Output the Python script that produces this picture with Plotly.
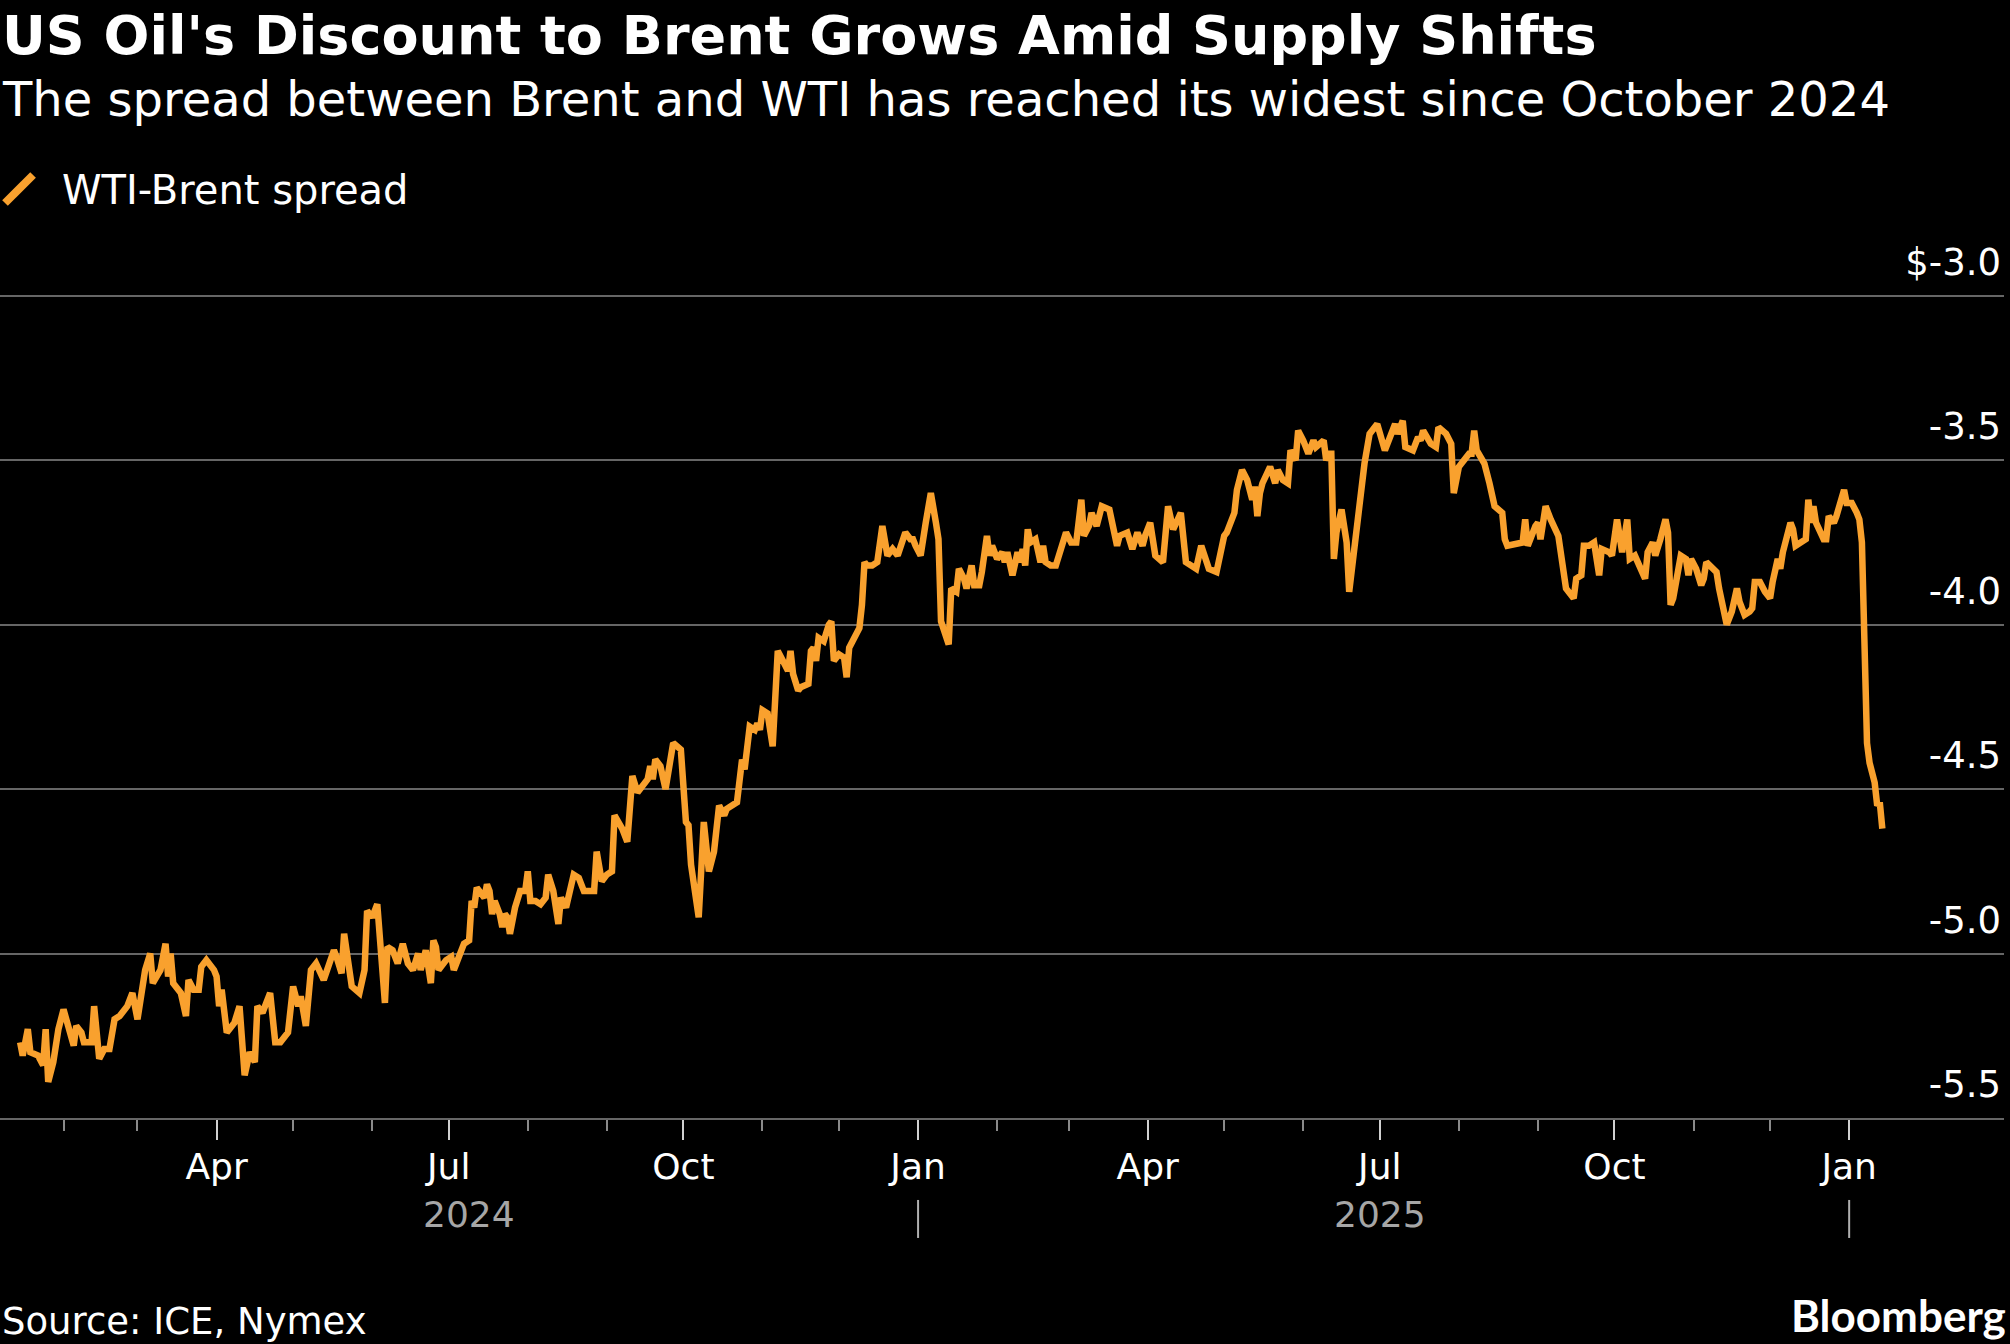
import plotly.graph_objects as go

TITLE = "US Oil's Discount to Brent Grows Amid Supply Shifts"
SUBTITLE = "The spread between Brent and WTI has reached its widest since October 2024"
SERIES_NAME = "WTI-Brent spread"
SOURCE = "Source: ICE, Nymex"
BRAND = "Bloomberg"

# WTI minus Brent, $ per barrel
dates = [
    "2024-01-15", "2024-01-16", "2024-01-18", "2024-01-19", "2024-01-22", "2024-01-23", "2024-01-24",
    "2024-01-25", "2024-01-26", "2024-01-28", "2024-01-30", "2024-02-01", "2024-02-03", "2024-02-05",
    "2024-02-06", "2024-02-08", "2024-02-09", "2024-02-12", "2024-02-13", "2024-02-15", "2024-02-17",
    "2024-02-19", "2024-02-21", "2024-02-23", "2024-02-26", "2024-02-28", "2024-03-01", "2024-03-04",
    "2024-03-06", "2024-03-07", "2024-03-10", "2024-03-12", "2024-03-13", "2024-03-14", "2024-03-15",
    "2024-03-18", "2024-03-20", "2024-03-21", "2024-03-23", "2024-03-25", "2024-03-26", "2024-03-28",
    "2024-03-31", "2024-04-01", "2024-04-02", "2024-04-03", "2024-04-05", "2024-04-08", "2024-04-10",
    "2024-04-12", "2024-04-14", "2024-04-16", "2024-04-17", "2024-04-19", "2024-04-22", "2024-04-24",
    "2024-04-26", "2024-04-29", "2024-05-01", "2024-05-03", "2024-05-04", "2024-05-06", "2024-05-08",
    "2024-05-10", "2024-05-13", "2024-05-15", "2024-05-17", "2024-05-18", "2024-05-20", "2024-05-21",
    "2024-05-22", "2024-05-24", "2024-05-27", "2024-05-29", "2024-05-30", "2024-06-01", "2024-06-03",
    "2024-06-06", "2024-06-07", "2024-06-09", "2024-06-11", "2024-06-13", "2024-06-15", "2024-06-17",
    "2024-06-19", "2024-06-20", "2024-06-22", "2024-06-24", "2024-06-25", "2024-06-26", "2024-06-27",
    "2024-06-30", "2024-07-02", "2024-07-03", "2024-07-07", "2024-07-09", "2024-07-10", "2024-07-11",
    "2024-07-12", "2024-07-15", "2024-07-16", "2024-07-17", "2024-07-18", "2024-07-19", "2024-07-21",
    "2024-07-22", "2024-07-23", "2024-07-24", "2024-07-25", "2024-07-27", "2024-07-29", "2024-07-31",
    "2024-08-01", "2024-08-02", "2024-08-04", "2024-08-06", "2024-08-08", "2024-08-09", "2024-08-11",
    "2024-08-13", "2024-08-14", "2024-08-16", "2024-08-19", "2024-08-21", "2024-08-23", "2024-08-27",
    "2024-08-28", "2024-08-30", "2024-09-01", "2024-09-03", "2024-09-04", "2024-09-07", "2024-09-09",
    "2024-09-11", "2024-09-13", "2024-09-15", "2024-09-17", "2024-09-18", "2024-09-19", "2024-09-20",
    "2024-09-22", "2024-09-24", "2024-09-25", "2024-09-27", "2024-09-30", "2024-10-02", "2024-10-03",
    "2024-10-04", "2024-10-07", "2024-10-09", "2024-10-11", "2024-10-13", "2024-10-15", "2024-10-17",
    "2024-10-18", "2024-10-22", "2024-10-24", "2024-10-25", "2024-10-27", "2024-10-29", "2024-10-30",
    "2024-10-31", "2024-11-01", "2024-11-03", "2024-11-05", "2024-11-07", "2024-11-09", "2024-11-11",
    "2024-11-12", "2024-11-13", "2024-11-15", "2024-11-16", "2024-11-19", "2024-11-20", "2024-11-21",
    "2024-11-22", "2024-11-23", "2024-11-25", "2024-11-27", "2024-11-28", "2024-11-29", "2024-12-01",
    "2024-12-03", "2024-12-04", "2024-12-05", "2024-12-08", "2024-12-09", "2024-12-10", "2024-12-11",
    "2024-12-12", "2024-12-14", "2024-12-16", "2024-12-18", "2024-12-20", "2024-12-22", "2024-12-24",
    "2024-12-26", "2024-12-27", "2024-12-29", "2024-12-30", "2024-12-31",
    "2025-01-02", "2025-01-04", "2025-01-06", "2025-01-08", "2025-01-09", "2025-01-10", "2025-01-12",
    "2025-01-13", "2025-01-14", "2025-01-16", "2025-01-17", "2025-01-19", "2025-01-20", "2025-01-22",
    "2025-01-23", "2025-01-25", "2025-01-26", "2025-01-28", "2025-01-29", "2025-01-30", "2025-02-01",
    "2025-02-03", "2025-02-04", "2025-02-05", "2025-02-07", "2025-02-09", "2025-02-10", "2025-02-11",
    "2025-02-12", "2025-02-13", "2025-02-14", "2025-02-16", "2025-02-18", "2025-02-19", "2025-02-20",
    "2025-02-22", "2025-02-24", "2025-02-26", "2025-02-28", "2025-03-02", "2025-03-04", "2025-03-06",
    "2025-03-07", "2025-03-09", "2025-03-10", "2025-03-12", "2025-03-14", "2025-03-17", "2025-03-20",
    "2025-03-21", "2025-03-24", "2025-03-26", "2025-03-28", "2025-03-30", "2025-03-31", "2025-04-02",
    "2025-04-04", "2025-04-07", "2025-04-09", "2025-04-11", "2025-04-14", "2025-04-16", "2025-04-20",
    "2025-04-22", "2025-04-25", "2025-04-28", "2025-05-01", "2025-05-02", "2025-05-05", "2025-05-06",
    "2025-05-08", "2025-05-10", "2025-05-12", "2025-05-13", "2025-05-14", "2025-05-15", "2025-05-16",
    "2025-05-19", "2025-05-21", "2025-05-22", "2025-05-24", "2025-05-26", "2025-05-27", "2025-05-29",
    "2025-05-30", "2025-06-01", "2025-06-03", "2025-06-05", "2025-06-06", "2025-06-09", "2025-06-10",
    "2025-06-11", "2025-06-12", "2025-06-13", "2025-06-14", "2025-06-16", "2025-06-18", "2025-06-19",
    "2025-06-21", "2025-06-23", "2025-06-25", "2025-06-27", "2025-06-30", "2025-07-03", "2025-07-05",
    "2025-07-07", "2025-07-08", "2025-07-10", "2025-07-11", "2025-07-14", "2025-07-16", "2025-07-17",
    "2025-07-18", "2025-07-21", "2025-07-23", "2025-07-24", "2025-07-27", "2025-07-29", "2025-07-30",
    "2025-08-01", "2025-08-03", "2025-08-05", "2025-08-06", "2025-08-07", "2025-08-08", "2025-08-11",
    "2025-08-13", "2025-08-15", "2025-08-18", "2025-08-19", "2025-08-20", "2025-08-26", "2025-08-27",
    "2025-08-28", "2025-08-31", "2025-09-01", "2025-09-02", "2025-09-04", "2025-09-06", "2025-09-09",
    "2025-09-12", "2025-09-15", "2025-09-16", "2025-09-18", "2025-09-19", "2025-09-21", "2025-09-23",
    "2025-09-25", "2025-09-26", "2025-09-29", "2025-09-30", "2025-10-02", "2025-10-04", "2025-10-06",
    "2025-10-07", "2025-10-09", "2025-10-13", "2025-10-14", "2025-10-16", "2025-10-17", "2025-10-19",
    "2025-10-21", "2025-10-22", "2025-10-23", "2025-10-24", "2025-10-26", "2025-10-27", "2025-10-29",
    "2025-10-30", "2025-10-31", "2025-11-02", "2025-11-04", "2025-11-05", "2025-11-06", "2025-11-09",
    "2025-11-10", "2025-11-11", "2025-11-13", "2025-11-14", "2025-11-16", "2025-11-18", "2025-11-19",
    "2025-11-21", "2025-11-23", "2025-11-24", "2025-11-25", "2025-11-27", "2025-11-29", "2025-12-01",
    "2025-12-02", "2025-12-04", "2025-12-05", "2025-12-06", "2025-12-09", "2025-12-10", "2025-12-11",
    "2025-12-15", "2025-12-16", "2025-12-17", "2025-12-18", "2025-12-19", "2025-12-22", "2025-12-23",
    "2025-12-24", "2025-12-26", "2025-12-27", "2025-12-28", "2025-12-30", "2025-12-31",
    "2026-01-02", "2026-01-04", "2026-01-05", "2026-01-06", "2026-01-08", "2026-01-09", "2026-01-11",
    "2026-01-12", "2026-01-13", "2026-01-14",
]
spread = [
    -5.27, -5.31, -5.23, -5.30, -5.31, -5.33, -5.34,
    -5.23, -5.39, -5.33, -5.23, -5.17, -5.23, -5.28,
    -5.22, -5.24, -5.27, -5.27, -5.16, -5.32, -5.29,
    -5.29, -5.20, -5.19, -5.16, -5.12, -5.20, -5.05,
    -5.00, -5.09, -5.05, -4.97, -5.07, -5.00, -5.09,
    -5.12, -5.19, -5.08, -5.11, -5.11, -5.04, -5.02,
    -5.05, -5.07, -5.16, -5.11, -5.24, -5.21, -5.16,
    -5.37, -5.30, -5.33, -5.16, -5.18, -5.12, -5.27,
    -5.27, -5.24, -5.10, -5.16, -5.13, -5.22, -5.05,
    -5.03, -5.08, -5.03, -4.99, -5.01, -5.06, -4.94,
    -4.99, -5.10, -5.12, -5.05, -4.87, -4.89, -4.85,
    -5.15, -4.98, -4.99, -5.03, -4.97, -5.03, -5.05,
    -5.00, -5.05, -4.99, -5.09, -4.96, -4.98, -5.05,
    -5.02, -5.01, -5.05, -4.97, -4.96, -4.84, -4.86,
    -4.80, -4.83, -4.79, -4.81, -4.88, -4.84, -4.88,
    -4.92, -4.88, -4.89, -4.94, -4.86, -4.81, -4.81,
    -4.75, -4.84, -4.84, -4.85, -4.83, -4.76, -4.81,
    -4.91, -4.83, -4.86, -4.76, -4.77, -4.81, -4.81,
    -4.69, -4.78, -4.76, -4.75, -4.58, -4.62, -4.66,
    -4.46, -4.51, -4.49, -4.47, -4.43, -4.47, -4.41,
    -4.43, -4.50, -4.45, -4.36, -4.38, -4.60, -4.61,
    -4.73, -4.89, -4.60, -4.75, -4.69, -4.55, -4.58,
    -4.56, -4.54, -4.41, -4.44, -4.31, -4.32, -4.30,
    -4.32, -4.26, -4.27, -4.37, -4.08, -4.11, -4.14,
    -4.08, -4.15, -4.20, -4.19, -4.18, -4.08, -4.07,
    -4.11, -4.04, -4.05, -4.00, -3.99, -4.11, -4.09,
    -4.10, -4.16, -4.07, -4.03, -4.01, -3.94, -3.81,
    -3.82, -3.82, -3.81, -3.70, -3.79, -3.77, -3.79,
    -3.75, -3.72, -3.74, -3.74, -3.76,
    -3.79, -3.69, -3.60, -3.69, -3.74, -3.99, -4.03,
    -4.06, -3.89, -3.90, -3.83, -3.86, -3.89, -3.82,
    -3.88, -3.88, -3.84, -3.73, -3.79, -3.76, -3.80,
    -3.78, -3.81, -3.78, -3.85, -3.78, -3.81, -3.77,
    -3.82, -3.71, -3.75, -3.74, -3.81, -3.76, -3.81,
    -3.82, -3.82, -3.77, -3.72, -3.75, -3.75, -3.62,
    -3.73, -3.70, -3.66, -3.70, -3.64, -3.65, -3.76,
    -3.73, -3.72, -3.77, -3.72, -3.76, -3.73, -3.69,
    -3.79, -3.81, -3.64, -3.71, -3.66, -3.81, -3.83,
    -3.76, -3.83, -3.84, -3.73, -3.72, -3.66, -3.59,
    -3.53, -3.56, -3.62, -3.58, -3.67, -3.60, -3.57,
    -3.52, -3.57, -3.53, -3.56, -3.57, -3.47, -3.50,
    -3.41, -3.44, -3.48, -3.44, -3.46, -3.44, -3.50,
    -3.48, -3.48, -3.80, -3.72, -3.65, -3.75, -3.90,
    -3.77, -3.62, -3.51, -3.42, -3.39, -3.47, -3.43,
    -3.39, -3.42, -3.38, -3.46, -3.47, -3.43, -3.44,
    -3.41, -3.45, -3.46, -3.40, -3.42, -3.45, -3.60,
    -3.52, -3.50, -3.48, -3.48, -3.41, -3.47, -3.51,
    -3.57, -3.64, -3.66, -3.74, -3.76, -3.75, -3.68,
    -3.76, -3.70, -3.69, -3.74, -3.64, -3.68, -3.73,
    -3.89, -3.92, -3.86, -3.85, -3.76, -3.76, -3.75,
    -3.85, -3.77, -3.78, -3.79, -3.68, -3.78, -3.68,
    -3.80, -3.79, -3.86, -3.78, -3.75, -3.79, -3.74,
    -3.68, -3.72, -3.94, -3.92, -3.81, -3.79, -3.80,
    -3.85, -3.80, -3.83, -3.88, -3.86, -3.81, -3.83,
    -3.84, -3.89, -3.96, -4.00, -3.96, -3.89, -3.93,
    -3.97, -3.96, -3.95, -3.87, -3.87, -3.90, -3.92,
    -3.87, -3.80, -3.83, -3.78, -3.69, -3.71, -3.76,
    -3.74, -3.62, -3.69, -3.64, -3.69, -3.74, -3.74,
    -3.67, -3.69, -3.67, -3.64, -3.59, -3.63,
    -3.63, -3.66, -3.68, -3.75, -4.36, -4.42, -4.48,
    -4.55, -4.54, -4.62,
]

y_ticks = [-3.0, -3.5, -4.0, -4.5, -5.0, -5.5]
y_tick_labels = ["$-3.0", "-3.5", "-4.0", "-4.5", "-5.0", "-5.5"]
x_major_ticks = ["2024-04-01", "2024-07-01", "2024-10-01", "2025-01-01",
                 "2025-04-01", "2025-07-01", "2025-10-01", "2026-01-01"]
x_major_labels = ["Apr", "Jul", "Oct", "Jan", "Apr", "Jul", "Oct", "Jan"]
x_minor_ticks = ["2024-02-01", "2024-03-01", "2024-05-01", "2024-06-01", "2024-08-01",
                 "2024-09-01", "2024-11-01", "2024-12-01", "2025-02-01", "2025-03-01",
                 "2025-05-01", "2025-06-01", "2025-08-01", "2025-09-01", "2025-11-01",
                 "2025-12-01"]
years = ["2024", "2025"]
year_label_dates = ["2024-07-09", "2025-07-01"]
year_breaks = ["2025-01-01", "2026-01-01"]

ORANGE = "#F9A12E"
GRID = "#666666"
FONT = "DejaVu Sans"

fig = go.Figure()
fig.add_trace(go.Scatter(
    x=dates, y=spread, mode="lines", name=SERIES_NAME,
    line=dict(color=ORANGE, width=6.5), showlegend=False,
))

# header / footer text, positioned in paper units of the plot area
annotations = [
    dict(text=f"<b>{TITLE}</b>", x=0, y=1.2189, font=dict(size=54)),
    dict(text=SUBTITLE, x=0, y=1.1475, font=dict(size=48)),
    dict(text=SERIES_NAME, x=0.030, y=1.0450, font=dict(size=40)),
    dict(text=SOURCE, x=0, y=-0.2297, font=dict(size=37)),
    dict(text=f"<b>{BRAND}</b>", x=1.002, y=-0.2218, xanchor="right",
         font=dict(size=44, family="Lato")),
]
for ann in annotations:
    ann.setdefault("xanchor", "left")
    ann.update(xref="paper", yref="paper", yanchor="middle", showarrow=False)
    ann["font"] = {"color": "white", "family": FONT, **ann["font"]}
for label, when in zip(years, year_label_dates):
    annotations.append(dict(text=label, x=when, xref="x", y=-0.1092, yref="paper",
                            yanchor="middle", showarrow=False,
                            font=dict(size=36, color="#a6a6a6", family=FONT)))

shapes = [dict(type="line", xref="paper", yref="paper", x0=0.0025, y0=1.0304,
               x1=0.0165, y1=1.0619, line=dict(color=ORANGE, width=8))]
for when in year_breaks:
    shapes.append(dict(type="line", xref="x", yref="paper", x0=when, x1=when,
                       y0=-0.0923, y1=-0.1351, line=dict(color="#b0b0b0", width=2)))

fig.update_layout(
    width=2010, height=1344, autosize=False,
    paper_bgcolor="black", plot_bgcolor="black",
    margin=dict(l=0, r=6, t=230, b=226),
    font=dict(family=FONT, color="white", size=36),
    annotations=annotations, shapes=shapes,
    xaxis=dict(
        type="date", range=["2024-01-07 02:24", "2026-03-02 16:48"],
        tickmode="array", tickvals=x_major_ticks, ticktext=x_major_labels,
        ticks="outside", ticklen=20, tickwidth=2, tickcolor="#d0d0d0",
        tickfont=dict(size=36, color="white"), ticklabelstandoff=-4,
        minor=dict(tickmode="array", tickvals=x_minor_ticks, ticks="outside",
                   ticklen=11, tickwidth=2, tickcolor="#8a8a8a", showgrid=False),
        showgrid=False, zeroline=False, showline=True, linecolor=GRID, linewidth=2,
        fixedrange=True,
    ),
    yaxis=dict(
        side="right", range=[-5.5, -2.80],
        tickmode="array", tickvals=y_ticks, ticktext=y_tick_labels,
        ticklabelposition="inside", ticklabelshift=-34, ticks="",
        tickfont=dict(size=37, color="white"),
        showgrid=True, gridcolor=GRID, gridwidth=2, zeroline=False, showline=False,
    ),
)

fig.write_html(
    "out.html",
    config={"displayModeBar": False},
    post_script="document.body.style.margin='0';document.body.style.background='black';",
)
